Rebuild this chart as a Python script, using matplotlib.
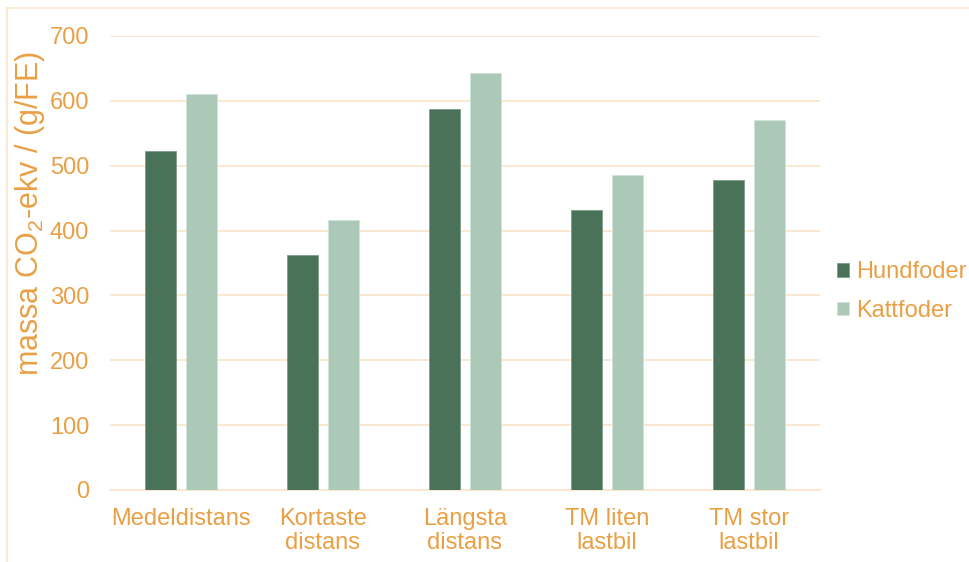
import numpy as np
import matplotlib.pyplot as plt
from matplotlib.patches import Rectangle

plt.rcParams['font.family'] = ['Liberation Sans', 'DejaVu Sans']
plt.rcParams['mathtext.fontset'] = 'custom'
plt.rcParams['mathtext.rm'] = 'Liberation Sans'

kategorier = ['Medeldistans', 'Kortaste\ndistans', 'Längsta\ndistans',
              'TM liten\nlastbil', 'TM stor\nlastbil']
hundfoder = [523, 362, 588, 431, 478]
kattfoder = [610, 416, 643, 486, 570]

orange = '#E9A045'
grid_c = '#FAE6CC'
mork = '#4A7259'
ljus = '#ABC9B6'

fig = plt.figure(figsize=(9.7, 5.62), dpi=100)
ax = fig.add_axes([110/970, 1 - 490/562, 710/970, 454/562])

# ram runt hela diagrammet
fig.patches.append(Rectangle((7/970, -0.05), 1.0, 1.05 - 8/562, transform=fig.transFigure,
                             fill=False, edgecolor=grid_c, linewidth=1.2))

x = np.arange(len(kategorier))
b = 0.225
ax.bar(x - b/2 - 0.032, hundfoder, b, color=mork, edgecolor='#7E9C89', linewidth=0.6,
       label='Hundfoder', zorder=3)
ax.bar(x + b/2 + 0.032, kattfoder, b, color=ljus, edgecolor='#D2E2D8', linewidth=0.6,
       label='Kattfoder', zorder=3)

ax.set_xlim(-0.5, len(kategorier) - 0.5)
ax.set_ylim(0, 700)
ax.set_yticks(np.arange(0, 701, 100))
ax.set_xticks(x)
ax.set_xticklabels(kategorier, linespacing=1.1)
ax.yaxis.grid(True, color=grid_c, linewidth=1.3, zorder=0)
ax.set_axisbelow(True)
for s in ['top', 'right', 'left']:
    ax.spines[s].set_visible(False)
ax.spines['bottom'].set_color(grid_c)
ax.spines['bottom'].set_linewidth(1.3)
ax.tick_params(axis='both', length=0, labelsize=17, labelcolor=orange)
ax.tick_params(axis='y', pad=15)
ax.tick_params(axis='x', pad=13)

ax.set_ylabel('massa CO$_\\mathregular{2}$-ekv / (g/FE)', fontsize=22, color=orange)
ax.yaxis.set_label_coords(-0.089, 0.609)

fig.legend(loc='upper left', bbox_to_anchor=(828/970, 1 - 252/562), frameon=False,
           fontsize=17, labelcolor=orange, handlelength=0.5, handleheight=0.5,
           handletextpad=0.3, labelspacing=0.7, borderaxespad=0)

fig.savefig('out.png', dpi=100, facecolor='white')
